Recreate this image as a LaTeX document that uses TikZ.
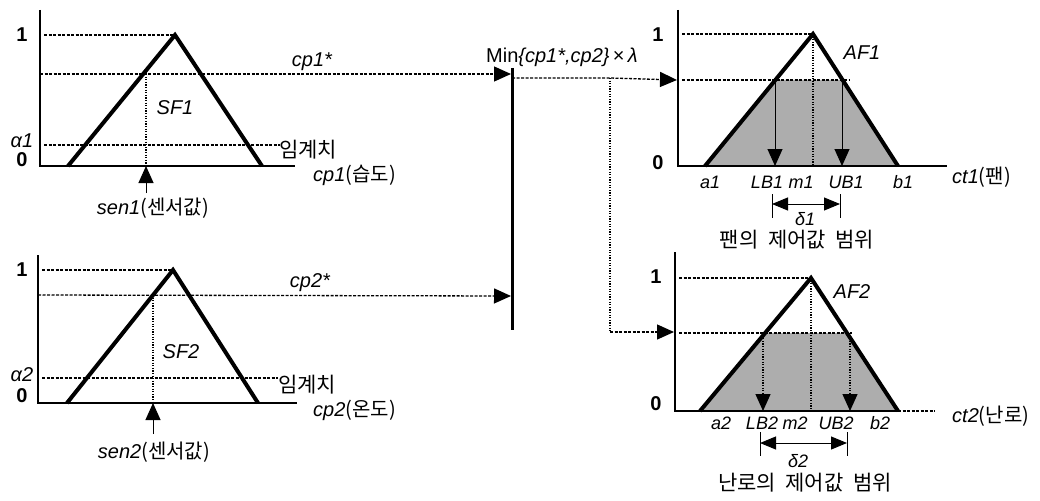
\documentclass[tikz,border=0pt]{standalone}
\usepackage{fontspec}
\setmainfont{Liberation Sans}
\newfontfamily\kr{Noto Sans CJK KR}
\usetikzlibrary{arrows.meta}
\tikzset{
  axisline/.style={line width=1.8pt},
  mfun/.style={line width=4pt, line join=miter},
  dsh/.style={line width=1.3pt, dash pattern=on 3pt off 1.5pt},
  dtt/.style={line width=1.3pt, dash pattern=on 1.2pt off 1.4pt},
  tip/.style={-{Triangle[length=17pt,width=15pt]}},
  dtip/.style={{Triangle[length=16pt,width=13pt]}-{Triangle[length=16pt,width=13pt]}},
  lab/.style={font=\fontsize{20}{20}\selectfont\itshape, inner sep=0pt},
  xlab/.style={font=\fontsize{18}{18}\selectfont\itshape, inner sep=0pt},
  num/.style={font=\fontsize{20}{20}\selectfont\bfseries, inner sep=0pt},
  krl/.style={font=\fontsize{21}{21}\selectfont\kr, inner sep=0pt},
  shade/.style={fill=black!32},
}
\begin{document}
\begin{tikzpicture}[x=1pt,y=-1pt]
\useasboundingbox (0,0) rectangle (1040,500);

% ---------------- Graph SF1 ----------------
\draw[axisline] (40,10) -- (40,166) -- (295,166);
\draw[dsh] (44,35) -- (175,35);
\draw[dsh] (44,145) -- (280,145);
\draw[dtt] (146,74) -- (146,166);
\draw[mfun] (68,166) -- (175,35) -- (262,166);
\coordinate (cp1s) at (40,74);
\node[num] (one1) at (22,35) {1};
\node[lab] (al1) at (22,141) {α1};
\node[num] (zero1) at (22,160) {0};
\node[lab] (sf1) at (175,108) {SF1};
\node[lab] (cp1st) at (312,62) {cp1*};
\node[krl] (th1) at (308,150) {임계치};
\node[lab, anchor=west] (cp1x) at (313,175) {cp1{\upshape\kr(습도)}};
\coordinate (sen1top) at (146,166);
\node[lab] (sen1) at (153,208) {sen1{\upshape\kr(센서값)}};
\coordinate (sen1bot) at (146,193);
\draw[line width=1pt, tip] (sen1bot) -- (sen1top);

% ---------------- Graph SF2 ----------------
\draw[axisline] (38,255) -- (38,403) -- (297,403);
\draw[dsh] (42,270) -- (173,270);
\draw[dsh] (42,378) -- (278,378);
\draw[dtt] (153,295) -- (153,403);
\draw[mfun] (67,403) -- (173,270) -- (258,403);
\coordinate (cp2s) at (38,295);
\node[num] (one2) at (22,270) {1};
\node[lab] (al2) at (22,375) {α2};
\node[num] (zero2) at (22,396) {0};
\node[lab] (sf2) at (181,352) {SF2};
\node[lab] (cp2st) at (310,283) {cp2*};
\node[krl] (th2) at (307,385) {임계치};
\node[lab, anchor=west] (cp2x) at (313,410) {cp2{\upshape\kr(온도)}};
\coordinate (sen2top) at (153,403);
\node[lab] (sen2) at (154,452) {sen2{\upshape\kr(센서값)}};
\coordinate (sen2bot) at (153,434);
\draw[line width=1pt, tip] (sen2bot) -- (sen2top);

% ---------------- Min bar ----------------
\coordinate (bartop) at (512,68);
\coordinate (barbot) at (512,330);
\draw[line width=3pt] (bartop) -- (barbot);
\coordinate (bar1) at (511,74);
\coordinate (bar2) at (511,296);
\draw[dsh, tip] (cp1s) -- (bar1);
\draw[dsh, tip] (cp2s) -- (bar2);
\node[inner sep=0pt, font=\fontsize{20}{20}\selectfont] (minl) at (562,57) {Min{\itshape\{cp1*,cp2\}}\,×\,{\itshape λ}};
\coordinate (barout) at (512,78);
\coordinate (split) at (610,78);
\coordinate (splitdn) at (610,332);

% ---------------- Graph AF1 ----------------
\fill[shade] (705,166) -- (775,80) -- (843,80) -- (898,166) -- cycle;
\draw[axisline] (678,10) -- (678,166) -- (947,166);
\draw[dsh] (682,34) -- (813,34);
\draw[dsh] (682,80) -- (850,80);
\draw[dtt] (813,34) -- (813,166);
\draw[mfun] (705,166) -- (813,34) -- (898,166);
\coordinate (af1in) at (677,80);
\draw[dsh, tip] (barout) -- (split) -- (af1in);
\node[num] (one3) at (658,35) {1};
\node[num] (zero3) at (658,163) {0};
\node[lab] (af1) at (862,53) {AF1};
\node[lab, anchor=west] (ct1) at (952,177) {ct1{\upshape\kr(팬)}};
\coordinate (lb1t) at (775,80);
\coordinate (lb1b) at (775,166);
\coordinate (ub1t) at (842,80);
\coordinate (ub1b) at (842,166);
\draw[line width=1pt, tip] (lb1t) -- (lb1b);
\draw[line width=1pt, tip] (ub1t) -- (ub1b);
\node[xlab] (a1) at (710,182) {a1};
\node[xlab] (lb1) at (767,182) {LB1};
\node[xlab] (m1) at (801,182) {m1};
\node[xlab] (ub1) at (846,182) {UB1};
\node[xlab] (b1) at (903,182) {b1};
\coordinate (d1l) at (772,204);
\coordinate (d1r) at (840,204);
\draw[line width=1pt] (772,194) -- (772,218);
\draw[line width=1pt] (840,194) -- (840,218);
\draw[line width=1pt, dtip] (d1l) -- (d1r);
\node[xlab] (del1) at (805,219) {δ1};
\node[krl] (r1) at (797,240) {팬의\hspace{0.45em}제어값\hspace{0.45em}범위};

% ---------------- Graph AF2 ----------------
\fill[shade] (700,411) -- (765,333) -- (849,333) -- (898,411) -- cycle;
\draw[axisline] (675,252) -- (675,411) -- (898,411);
\draw[dsh] (898,411) -- (935,411);
\draw[dsh] (679,278) -- (811,278);
\draw[dsh] (679,333) -- (852,333);
\draw[dtt] (811,278) -- (811,411);
\draw[mfun] (700,411) -- (811,278) -- (898,411);
\coordinate (af2in) at (674,332);
\draw[dtt] (split) -- (splitdn);
\draw[dsh, tip] (splitdn) -- (af2in);
\node[num] (one4) at (656,277) {1};
\node[num] (zero4) at (656,404) {0};
\node[lab] (af2) at (852,292) {AF2};
\node[lab, anchor=west] (ct2) at (952,416) {ct2{\upshape\kr(난로)}};
\coordinate (lb2t) at (763,333);
\coordinate (lb2b) at (763,411);
\coordinate (ub2t) at (850,333);
\coordinate (ub2b) at (850,411);
\draw[dtt, tip] (lb2t) -- (lb2b);
\draw[dtt, tip] (ub2t) -- (ub2b);
\node[xlab] (a2) at (721,423) {a2};
\node[xlab] (lb2) at (762,423) {LB2};
\node[xlab] (m2) at (795,423) {m2};
\node[xlab] (ub2) at (836,423) {UB2};
\node[xlab] (b2) at (880,423) {b2};
\coordinate (d2l) at (760,443);
\coordinate (d2r) at (847,443);
\draw[line width=1pt] (760,432) -- (760,456);
\draw[line width=1pt] (847,432) -- (847,456);
\draw[line width=1pt, dtip] (d2l) -- (d2r);
\node[xlab] (del2) at (798,461) {δ2};
\node[krl] (r2) at (805,483) {난로의\hspace{0.45em}제어값\hspace{0.45em}범위};
\end{tikzpicture}
\end{document}
